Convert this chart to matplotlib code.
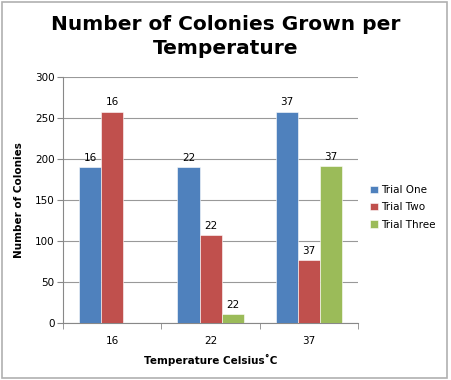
import matplotlib.pyplot as plt
import numpy as np
from matplotlib.patches import Rectangle

categories = ["16", "22", "37"]
series_names = ["Trial One", "Trial Two", "Trial Three"]
trial_one = [190, 190, 258]
trial_two = [258, 107, 77]
trial_three = [0, 11, 191]
colors = ["#4F81BD", "#C0504D", "#9BBB59"]

fig = plt.figure(figsize=(4.51, 3.80), dpi=100)
fig.patches.append(Rectangle((0.004, 0.006), 0.988, 0.988, transform=fig.transFigure,
                             fill=False, edgecolor="#b0b0b0", linewidth=1.2))
ax = fig.add_axes([0.14, 0.15, 0.654, 0.647])

x = np.arange(len(categories))
width = 0.225
for i, (name, vals) in enumerate(zip(series_names, [trial_one, trial_two, trial_three])):
    pos = x + (i - 1) * width
    bars = ax.bar(pos, vals, width, color=colors[i], label=name, zorder=3,
                  edgecolor="white", linewidth=0.4)
    for b, v, cat in zip(bars, vals, categories):
        if v > 0:
            ax.annotate(cat, (b.get_x() + b.get_width() / 2, v), xytext=(0, 3),
                        textcoords="offset points", ha="center", va="bottom", fontsize=7.5)

ax.set_xlim(-0.5, len(categories) - 0.5)
ax.set_ylim(0, 300)
ax.set_yticks(range(0, 301, 50))
ax.set_xticks(x)
ax.set_xticklabels(categories, fontsize=7.5)
ax.set_xticks(np.arange(-0.5, len(categories)), minor=True)
ax.tick_params(axis="x", which="major", length=0, pad=9)
ax.tick_params(axis="x", which="minor", length=4, color="#888888")
ax.tick_params(axis="y", length=4, color="#888888", labelsize=7.5, pad=2)
ax.yaxis.grid(True, color="#999999", linewidth=0.8, zorder=0)
for s in ["top", "right"]:
    ax.spines[s].set_visible(False)
ax.spines["left"].set_color("#888888")
ax.spines["bottom"].set_color("#888888")

ax.set_xlabel("Temperature Celsius\u02daC", fontsize=7.5, fontweight="bold", labelpad=6)
ax.set_ylabel("Number of Colonies", fontsize=7.5, fontweight="bold", labelpad=8)
fig.text(0.5, 0.96, "Number of Colonies Grown per\nTemperature", ha="center", va="top",
         fontsize=14.5, fontweight="bold", linespacing=1.3)

ax.legend(loc="center left", bbox_to_anchor=(1.01, 0.47), frameon=False, fontsize=7.5,
          handlelength=0.7, handleheight=0.7, handletextpad=0.3, labelspacing=0.7)

fig.savefig("out.png", dpi=100)
